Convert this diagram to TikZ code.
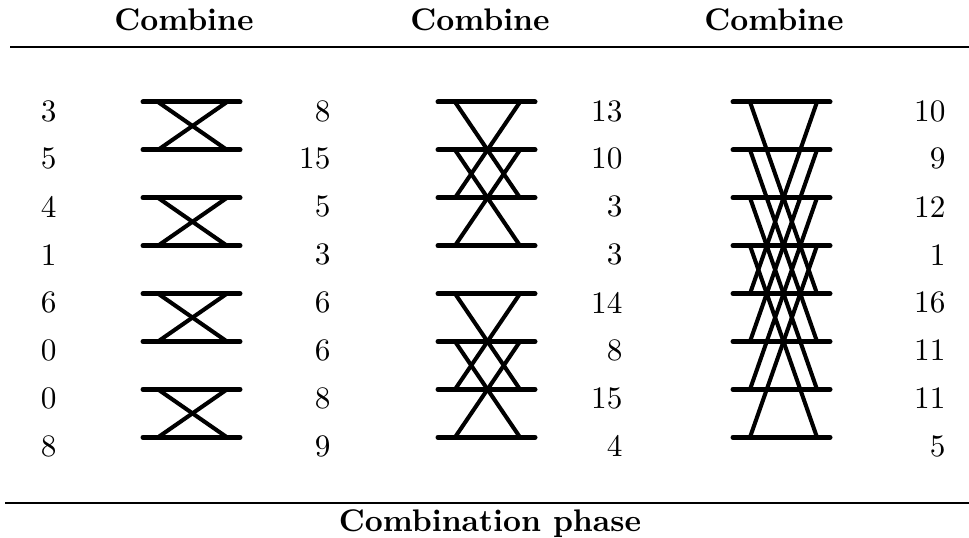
\documentclass[tikz,border=0pt]{standalone}
\begin{document}
\begin{tikzpicture}[x=0.32pt, y=-0.32pt,
  bar/.style={line width=1.6pt, line cap=round},
  cross/.style={line width=1.3pt},
  num/.style={anchor=east, inner sep=0pt},
  title/.style={font=\bfseries, inner sep=0pt}]
  \useasboundingbox (0,0) rectangle (969,538);
  % Headings and rules
  \node[title] (t1) at (184,20) {Combine};
  \node[title] (t2) at (480,20) {Combine};
  \node[title] (t3) at (774,20) {Combine};
  \draw[line width=0.5pt] (10,47) -- (969,47);
  \draw[line width=0.5pt] (5,503) -- (969,503);
  \node[title] (phase) at (490,524) {Combination phase};
  % Values
  \foreach \v [count=\i from 0] in {3,5,4,1,6,0,0,8}
    \node[num] (a\i) at (57,{111+47.9*\i}) {\v};
  \foreach \v [count=\i from 0] in {8,15,5,3,6,6,8,9}
    \node[num] (b\i) at (331,{111+47.9*\i}) {\v};
  \foreach \v [count=\i from 0] in {13,10,3,3,14,8,15,4}
    \node[num] (c\i) at (623,{111+47.9*\i}) {\v};
  \foreach \v [count=\i from 0] in {10,9,12,1,16,11,11,5}
    \node[num] (d\i) at (946,{111+47.9*\i}) {\v};
  % Bars
  \foreach \i in {0,...,7} {
    \draw[bar] (143,{102+47.9*\i}) -- (240,{102+47.9*\i});
    \draw[bar] (438,{102+47.9*\i}) -- (535,{102+47.9*\i});
    \draw[bar] (733,{102+47.9*\i}) -- (830,{102+47.9*\i});
  }
  % Stage 1 crossings
  \foreach \i in {0,2,4,6} {
    \draw[cross] (158,{102+47.9*\i}) -- (227,{102+47.9*(\i+1)});
    \draw[cross] (227,{102+47.9*\i}) -- (158,{102+47.9*(\i+1)});
  }
  % Stage 2 crossings
  \foreach \i in {0,1,4,5} {
    \draw[cross] (455,{102+47.9*\i}) -- (520,{102+47.9*(\i+2)});
    \draw[cross] (520,{102+47.9*\i}) -- (455,{102+47.9*(\i+2)});
  }
  % Stage 3 crossings
  \foreach \i in {0,...,3} {
    \draw[cross] (750,{102+47.9*\i}) -- (817,{102+47.9*(\i+4)});
    \draw[cross] (817,{102+47.9*\i}) -- (750,{102+47.9*(\i+4)});
  }
\end{tikzpicture}
\end{document}
